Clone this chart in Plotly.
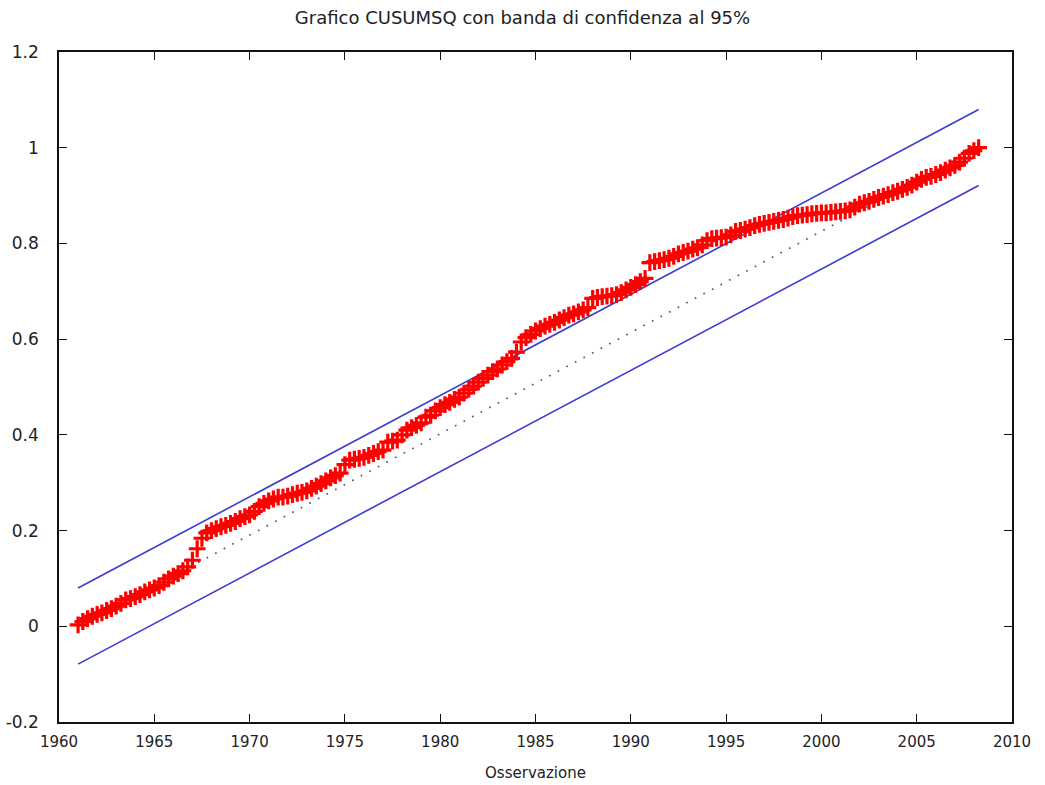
import plotly.graph_objects as go

# Quarterly observations, 1961:1 - 2008:2
start_year = 1961.0
quarter = 0.25

cusumsq = [
    0.003, 0.010, 0.016, 0.021,  # 1961
    0.025, 0.028, 0.033, 0.037,  # 1962
    0.042, 0.048, 0.055, 0.058,  # 1963
    0.062, 0.066, 0.072, 0.076,  # 1964
    0.080, 0.085, 0.092, 0.099,  # 1965
    0.105, 0.110, 0.116, 0.124,  # 1966
    0.138, 0.162, 0.184, 0.195,  # 1967
    0.200, 0.204, 0.208, 0.211,  # 1968
    0.215, 0.219, 0.225, 0.229,  # 1969
    0.233, 0.240, 0.250, 0.257,  # 1970
    0.262, 0.266, 0.270, 0.270,  # 1971
    0.272, 0.275, 0.278, 0.280,  # 1972
    0.283, 0.288, 0.293, 0.298,  # 1973
    0.304, 0.310, 0.315, 0.320,  # 1974
    0.338, 0.347, 0.349, 0.351,  # 1975
    0.353, 0.357, 0.361, 0.365,  # 1976
    0.368, 0.385, 0.387, 0.389,  # 1977
    0.400, 0.410, 0.415, 0.420,  # 1978
    0.425, 0.437, 0.441, 0.450,  # 1979
    0.457, 0.463, 0.468, 0.474,  # 1980
    0.479, 0.487, 0.495, 0.502,  # 1981
    0.510, 0.518, 0.525, 0.532,  # 1982
    0.538, 0.546, 0.553, 0.560,  # 1983
    0.573, 0.594, 0.603, 0.610,  # 1984
    0.617, 0.622, 0.627, 0.631,  # 1985
    0.635, 0.640, 0.645, 0.650,  # 1986
    0.653, 0.657, 0.661, 0.666,  # 1987
    0.685, 0.687, 0.689, 0.690,  # 1988
    0.691, 0.693, 0.697, 0.703,  # 1989
    0.708, 0.714, 0.720, 0.727,  # 1990
    0.760, 0.762, 0.764, 0.766,  # 1991
    0.769, 0.773, 0.778, 0.781,  # 1992
    0.784, 0.788, 0.791, 0.797,  # 1993
    0.806, 0.810, 0.811, 0.812,  # 1994
    0.813, 0.818, 0.825, 0.827,  # 1995
    0.830, 0.833, 0.837, 0.840,  # 1996
    0.842, 0.844, 0.846, 0.848,  # 1997
    0.850, 0.853, 0.856, 0.858,  # 1998
    0.859, 0.860, 0.862, 0.863,  # 1999
    0.864, 0.864, 0.865, 0.866,  # 2000
    0.867, 0.868, 0.870, 0.876,  # 2001
    0.882, 0.885, 0.888, 0.892,  # 2002
    0.896, 0.899, 0.902, 0.906,  # 2003
    0.909, 0.913, 0.917, 0.922,  # 2004
    0.928, 0.934, 0.938, 0.940,  # 2005
    0.944, 0.948, 0.953, 0.958,  # 2006
    0.963, 0.970, 0.978, 0.988,  # 2007
    0.994, 1.000,                # 2008
]
obs_dates = [start_year + quarter * i for i in range(len(cusumsq))]

# Expected path and 95% confidence band (straight lines between sample ends)
band_x = [obs_dates[0], obs_dates[-1]]
expected = [0.0, 1.0]
upper_band = [0.080, 1.080]
lower_band = [-0.079, 0.921]

x_ticks = [1960, 1965, 1970, 1975, 1980, 1985, 1990, 1995, 2000, 2005, 2010]
y_ticks = [-0.2, 0, 0.2, 0.4, 0.6, 0.8, 1, 1.2]
y_tick_text = ["-0.2", "0", "0.2", "0.4", "0.6", "0.8", "1", "1.2"]

band_color = "#3b3bd2"
text_color = "#222222"
font_family = "DejaVu Sans, Verdana, sans-serif"

fig = go.Figure()

fig.add_trace(go.Scatter(
    x=band_x, y=upper_band, mode="lines",
    line=dict(color=band_color, width=1.6), hoverinfo="skip", showlegend=False,
))
fig.add_trace(go.Scatter(
    x=band_x, y=lower_band, mode="lines",
    line=dict(color=band_color, width=1.6), hoverinfo="skip", showlegend=False,
))
fig.add_trace(go.Scatter(
    x=band_x, y=expected, mode="lines",
    line=dict(color="#55558a", width=1.7, dash="1.7px,8px"),
    hoverinfo="skip", showlegend=False,
))
fig.add_trace(go.Scatter(
    x=obs_dates, y=cusumsq, mode="markers",
    marker=dict(symbol="cross-thin", size=12, color="#ff0000",
                line=dict(color="#ff0000", width=3.2)),
    showlegend=False,
))

axis_common = dict(
    showline=True, linecolor="#111111", linewidth=1.6, mirror="ticks",
    ticks="inside", ticklen=8, tickwidth=1.3, tickcolor="#111111",
    showgrid=False, zeroline=False, automargin=False,
)

fig.update_layout(
    width=1045, height=785,
    margin=dict(l=59, r=33, t=52, b=63),
    paper_bgcolor="white", plot_bgcolor="white",
    title=dict(
        text="Grafico CUSUMSQ con banda di confidenza al 95%",
        x=0.5, xanchor="center", y=1 - 18 / 785, yanchor="middle",
        font=dict(family=font_family, size=18, color=text_color),
    ),
    xaxis=dict(
        range=[1960, 2010], tickvals=x_ticks,
        ticktext=[str(t) for t in x_ticks],
        tickfont=dict(family=font_family, size=15, color=text_color),
        title=dict(text="Osservazione", standoff=18,
                   font=dict(family=font_family, size=15, color=text_color)),
        ticklabelstandoff=5,
        **axis_common,
    ),
    yaxis=dict(
        range=[-0.2, 1.2], tickvals=y_ticks, ticktext=y_tick_text,
        tickfont=dict(family=font_family, size=17, color=text_color),
        ticklabelstandoff=15,
        **axis_common,
    ),
)

fig.write_html("out.html")
